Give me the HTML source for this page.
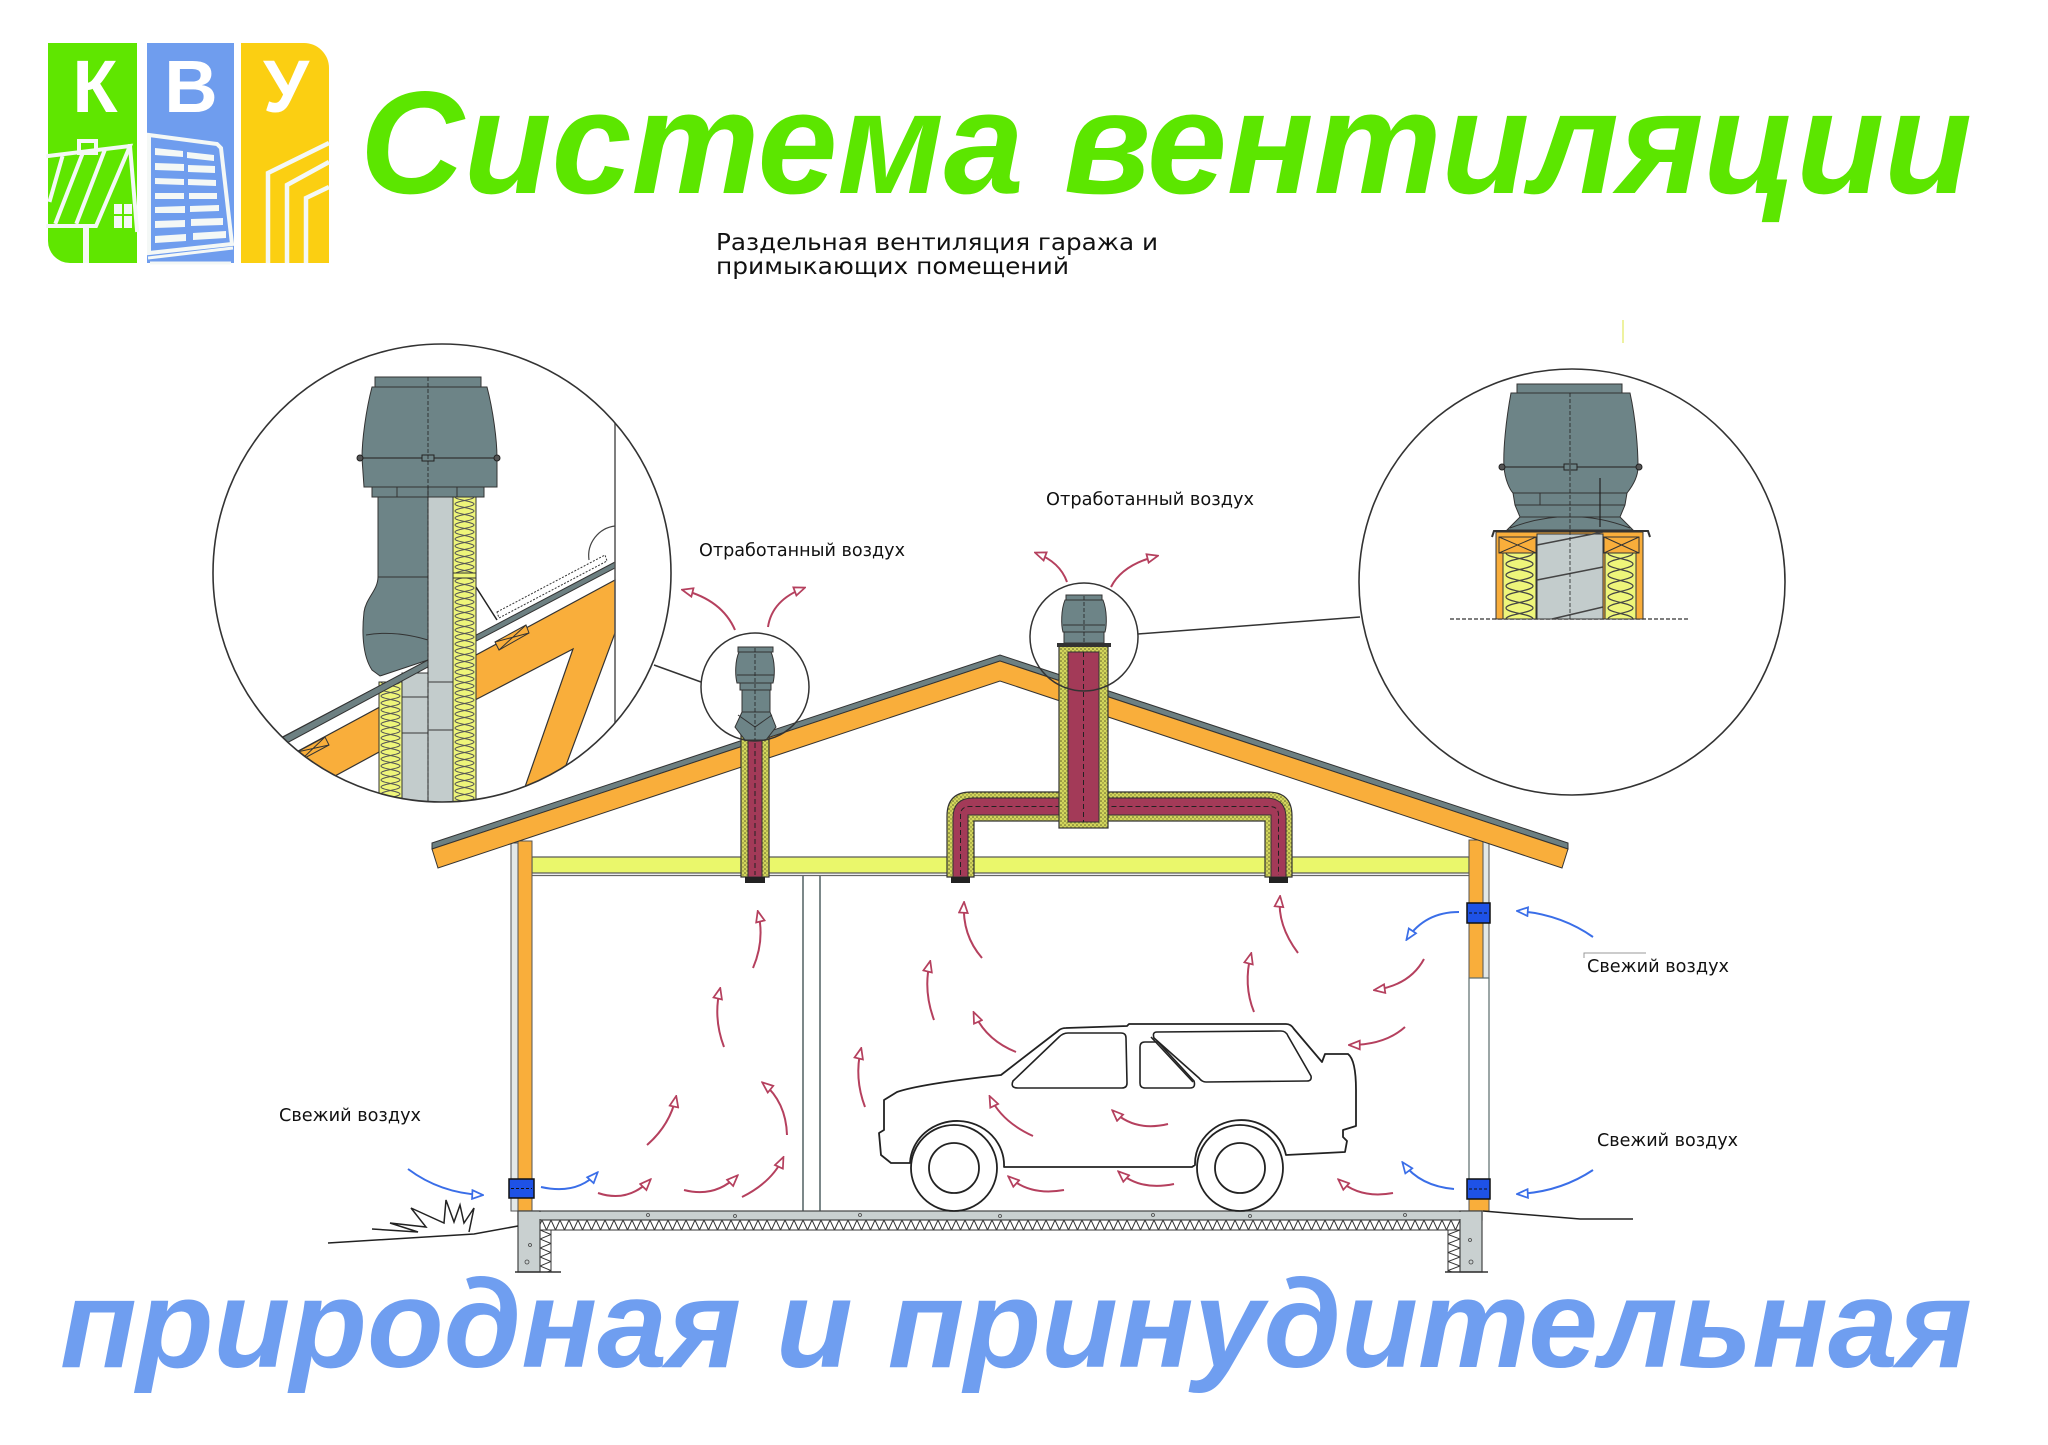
<!DOCTYPE html>
<html><head><meta charset="utf-8">
<style>html,body{margin:0;padding:0;background:#fff;}svg{display:block}</style>
</head><body>
<svg width="2048" height="1445" viewBox="0 0 2048 1445" xmlns="http://www.w3.org/2000/svg">
<defs>
 <marker id="ar" viewBox="0 0 12 10" refX="10" refY="5" markerWidth="13" markerHeight="11" markerUnits="userSpaceOnUse" orient="auto">
  <path d="M1,1 L11,5 L1,9 Z" fill="#fff" stroke="#b5405e" stroke-width="1.6"/>
 </marker>
 <marker id="ab" viewBox="0 0 12 10" refX="10" refY="5" markerWidth="13" markerHeight="11" markerUnits="userSpaceOnUse" orient="auto">
  <path d="M1,1 L11,5 L1,9 Z" fill="#fff" stroke="#3a6ee8" stroke-width="1.6"/>
 </marker>
 <pattern id="spk" width="4" height="4" patternUnits="userSpaceOnUse">
  <rect width="4" height="4" fill="#d3d65c"/>
  <circle cx="1" cy="1" r="0.8" fill="#5b5a2a"/><circle cx="3" cy="3" r="0.7" fill="#7a7a30"/>
 </pattern>
 <pattern id="insA" x="453" y="497" width="23" height="14" patternUnits="userSpaceOnUse">
  <rect width="23" height="14" fill="#eef57a"/>
  <path d="M2,0 C2,3 21,4 21,7 C21,10 2,11 2,14 M21,0 C21,3 2,4 2,7 C2,10 21,11 21,14" fill="none" stroke="#555" stroke-width="1"/>
 </pattern>
 <pattern id="insB" x="379" y="682" width="23" height="14" patternUnits="userSpaceOnUse">
  <rect width="23" height="14" fill="#eef57a"/>
  <path d="M2,0 C2,3 21,4 21,7 C21,10 2,11 2,14 M21,0 C21,3 2,4 2,7 C2,10 21,11 21,14" fill="none" stroke="#555" stroke-width="1"/>
 </pattern>
 <pattern id="insC" x="1503" y="553" width="33" height="22" patternUnits="userSpaceOnUse">
  <rect width="33" height="22" fill="#eef57a"/>
  <path d="M3,0 C3,5 30,6 30,11 C30,16 3,17 3,22 M30,0 C30,5 3,6 3,11 C3,16 30,17 30,22" fill="none" stroke="#444" stroke-width="1.2"/>
 </pattern>
 <pattern id="insD" x="1605" y="553" width="31" height="22" patternUnits="userSpaceOnUse">
  <rect width="31" height="22" fill="#eef57a"/>
  <path d="M3,0 C3,5 28,6 28,11 C28,16 3,17 3,22 M28,0 C28,5 3,6 3,11 C3,16 28,17 28,22" fill="none" stroke="#444" stroke-width="1.2"/>
 </pattern>
 <pattern id="zz" x="551" y="1220" width="9" height="10" patternUnits="userSpaceOnUse">
  <rect width="9" height="10" fill="#fff"/>
  <path d="M0,0 L4.5,10 L9,0" fill="none" stroke="#333" stroke-width="1"/>
 </pattern>
 <pattern id="zv1" x="540" y="1230" width="11" height="9" patternUnits="userSpaceOnUse">
  <rect width="11" height="9" fill="#fff"/>
  <path d="M0,0 L11,4.5 L0,9" fill="none" stroke="#333" stroke-width="1"/>
 </pattern>
 <pattern id="zv2" x="1448" y="1230" width="12" height="9" patternUnits="userSpaceOnUse">
  <rect width="12" height="9" fill="#fff"/>
  <path d="M12,0 L0,4.5 L12,9" fill="none" stroke="#333" stroke-width="1"/>
 </pattern>
 <clipPath id="cL"><circle cx="442" cy="573" r="229"/></clipPath>
 <clipPath id="cR"><circle cx="1572" cy="582" r="213"/></clipPath>
</defs>

<rect width="2048" height="1445" fill="#fff"/>

<!-- LOGO -->
<g>
 <path d="M48,43 H137 V263 H70 A22,22 0 0 1 48,241 Z" fill="#5fe600"/>
 <rect x="147" y="43" width="87" height="220" fill="#6f9dee"/>
 <path d="M241,43 H304 A25,25 0 0 1 329,68 V263 H241 Z" fill="#fbcf12"/>
 <g stroke="#f4f8f6" stroke-width="4" fill="none" stroke-linecap="square">
  <path d="M48,156 L130,146 L96,226 L48,226"/>
  <rect x="79" y="141" width="17" height="12"/>
  <path d="M62,158 L50,200 M82,155 L56,222 M104,152 L77,222"/>
  <path d="M130,146 L137,230"/>
 </g>
 <rect x="83" y="226" width="6" height="37" fill="#f4f8f6"/>
 <g fill="#f4f8f6">
  <rect x="114" y="204" width="8" height="10"/><rect x="124" y="204" width="8" height="10"/>
  <rect x="114" y="216" width="8" height="12"/><rect x="124" y="216" width="8" height="12"/>
 </g>
 <path d="M149,135 L217,144 L221,148 L232,244 L149,253 Z" fill="#6f9dee" stroke="#f4f8f6" stroke-width="4"/>
 <g fill="#f4f8f6">
  <polygon points="155,148 183,151 183,157 155,155"/><polygon points="187,152 214,155 214,161 187,158"/>
  <polygon points="155,163 184,164 184,171 155,170"/><polygon points="188,165 215,166 215,173 188,172"/>
  <polygon points="155,178 184,179 184,185 155,184"/><polygon points="188,179 216,180 216,186 188,185"/>
  <polygon points="155,193 184,193 184,199 155,199"/><polygon points="189,193 217,193 217,199 189,199"/>
  <polygon points="155,207 185,206 185,213 155,213"/><polygon points="190,206 219,205 219,211 190,212"/>
  <polygon points="155,221 185,220 185,227 155,228"/><polygon points="191,219 223,218 223,225 191,226"/>
  <polygon points="155,236 186,234 186,241 155,243"/><polygon points="193,233 226,231 226,238 193,240"/>
 </g>
 <path d="M148,258 L233,248 M150,263 L231,263" stroke="#f4f8f6" stroke-width="3"/>
 <path d="M268,263 V173 L329,143 M287,263 V185 L329,162 M306,263 V198 L329,187" stroke="#f4f8f6" stroke-width="4.5" fill="none"/>
 <g font-family="'Liberation Sans', 'DejaVu Sans', sans-serif" font-weight="bold" font-size="74" fill="#fff" text-anchor="middle">
  <text x="95" y="112">К</text><text x="191" y="112">В</text><text x="286" y="112">У</text>
 </g>
</g>

<!-- TITLES -->
<text x="360" y="193" font-family="'Liberation Sans', sans-serif" font-weight="bold" font-style="italic" font-size="146" fill="#5ce600" textLength="1612" lengthAdjust="spacingAndGlyphs">Система вентиляции</text>
<text x="60" y="1367" font-family="'Liberation Sans', sans-serif" font-weight="bold" font-style="italic" font-size="125" fill="#6f9ef0" textLength="1912" lengthAdjust="spacingAndGlyphs">природная и принудительная</text>

<g font-family="'DejaVu Sans', 'Liberation Sans', sans-serif" fill="#111">
 <text x="716" y="250" font-size="23" textLength="442" lengthAdjust="spacingAndGlyphs">Раздельная вентиляция гаража и</text>
 <text x="716" y="274" font-size="23" textLength="353" lengthAdjust="spacingAndGlyphs">примыкающих помещений</text>
</g>
<line x1="1623" y1="320" x2="1623" y2="343" stroke="#eef2a0" stroke-width="2"/>

<!-- HOUSE STRUCTURE -->
<rect x="532" y="857" width="937" height="16" fill="#eaf76b" stroke="#555" stroke-width="1.2"/>
<line x1="532" y1="875.5" x2="1469" y2="875.5" stroke="#666" stroke-width="1.2"/>
<line x1="803" y1="876" x2="803" y2="1211" stroke="#5b6b6c" stroke-width="1.6"/>
<line x1="820" y1="876" x2="820" y2="1211" stroke="#5b6b6c" stroke-width="1.6"/>
<rect x="511" y="843" width="7" height="368" fill="#e3e8e8" stroke="#555" stroke-width="1"/>
<rect x="518" y="841" width="14" height="370" fill="#f9ae3b" stroke="#555" stroke-width="1"/>
<rect x="509" y="1179" width="25" height="19" fill="#1e52e6" stroke="#111" stroke-width="1.5"/>
<line x1="511" y1="1188.5" x2="532" y2="1188.5" stroke="#111" stroke-width="1" stroke-dasharray="3,2"/>
<rect x="1469" y="840" width="14" height="138" fill="#f9ae3b" stroke="#555" stroke-width="1"/>
<rect x="1483" y="840" width="6" height="138" fill="#e3e8e8" stroke="#555" stroke-width="1"/>
<rect x="1469" y="978" width="20" height="221" fill="#fff" stroke="#5b6b6c" stroke-width="1.2"/>
<rect x="1469" y="1199" width="20" height="12" fill="#f9ae3b" stroke="#555" stroke-width="1"/>
<rect x="1467" y="903" width="23" height="20" fill="#1e52e6" stroke="#111" stroke-width="1.5"/>
<line x1="1469" y1="913" x2="1489" y2="913" stroke="#111" stroke-width="1" stroke-dasharray="3,2"/>
<rect x="1467" y="1179" width="23" height="20" fill="#1e52e6" stroke="#111" stroke-width="1.5"/>
<line x1="1469" y1="1189" x2="1489" y2="1189" stroke="#111" stroke-width="1" stroke-dasharray="3,2"/>

<!-- floor & foundation -->
<rect x="540" y="1220" width="920" height="10" fill="url(#zz)" stroke="#333" stroke-width="1"/>
<rect x="540" y="1230" width="11" height="42" fill="url(#zv1)" stroke="#333" stroke-width="1"/>
<rect x="1448" y="1230" width="12" height="42" fill="url(#zv2)" stroke="#333" stroke-width="1"/>
<rect x="518" y="1211" width="964" height="9" fill="#c9d0d0" stroke="#444" stroke-width="1.2"/>
<rect x="518" y="1211" width="22" height="61" fill="#c9d0d0" stroke="#444" stroke-width="1.2"/>
<rect x="1460" y="1211" width="22" height="61" fill="#c9d0d0" stroke="#444" stroke-width="1.2"/>
<rect x="519" y="1212" width="962" height="7" fill="#c9d0d0"/>
<rect x="519" y="1212" width="20" height="59" fill="#c9d0d0"/>
<rect x="1461" y="1212" width="20" height="59" fill="#c9d0d0"/>
<g fill="none" stroke="#444" stroke-width="0.8">
 <circle cx="530" cy="1245" r="1.5"/><circle cx="527" cy="1262" r="2"/><circle cx="648" cy="1215" r="1.5"/><circle cx="735" cy="1216" r="1.5"/>
 <circle cx="860" cy="1215" r="1.5"/><circle cx="1000" cy="1216" r="1.5"/><circle cx="1153" cy="1215" r="1.5"/><circle cx="1250" cy="1216" r="1.5"/>
 <circle cx="1405" cy="1215" r="1.5"/><circle cx="1470" cy="1240" r="1.5"/><circle cx="1471" cy="1262" r="2"/>
</g>
<path d="M515,1272 H561 M1445,1272 H1488" stroke="#333" stroke-width="1.5"/>
<polyline points="328,1243 474,1234 518,1226" fill="none" stroke="#222" stroke-width="1.5"/>
<polyline points="1483,1211 1580,1219 1633,1219" fill="none" stroke="#222" stroke-width="1.5"/>
<polyline points="372,1229 418,1232 390,1223 426,1227 411,1208 444,1223 446,1200 454,1222 460,1205 464,1223 474,1208 469,1232" fill="none" stroke="#222" stroke-width="1.5"/>

<!-- ROOF -->
<polygon points="432,843 1000,655 1568,843 1568,849 1000,661 432,849" fill="#6d8082" stroke="#333" stroke-width="1"/>
<polygon points="432,849 1000,661 1568,849 1562,868 1000,681 438,868" fill="#f9ae3b" stroke="#333" stroke-width="1"/>

<!-- DUCTS -->
<rect x="741" y="733" width="28" height="144" fill="url(#spk)" stroke="#333" stroke-width="1.2"/>
<rect x="748" y="733" width="14" height="144" fill="#a33a58" stroke="#333" stroke-width="1"/>
<line x1="755" y1="735" x2="755" y2="875" stroke="#222" stroke-width="1" stroke-dasharray="5,3"/>
<rect x="745" y="877" width="20" height="6" fill="#222"/>

<path d="M947,877 L947,816 Q947,792 971,792 L1268,792 Q1292,792 1292,816 L1292,877 L1265,877 L1265,821 L974,821 L974,877 Z" fill="url(#spk)" stroke="#333" stroke-width="1.2"/>
<path d="M953,877 L953,818 Q953,798 973,798 L1266,798 Q1286,798 1286,818 L1286,877 L1271,877 L1271,815 L968,815 L968,877 Z" fill="#a33a58" stroke="#333" stroke-width="1"/>
<path d="M960.5,875 L960.5,815 Q960.5,806.5 970,806.5 L1270,806.5 Q1278.5,806.5 1278.5,815 L1278.5,875" fill="none" stroke="#222" stroke-width="1" stroke-dasharray="5,3"/>
<rect x="951" y="877" width="19" height="6" fill="#222"/>
<rect x="1269" y="877" width="19" height="6" fill="#222"/>
<rect x="1059" y="646" width="49" height="182" fill="url(#spk)" stroke="#333" stroke-width="1.2"/>
<rect x="1068" y="652" width="31" height="170" fill="#a33a58" stroke="#333" stroke-width="1"/>
<line x1="1083.5" y1="652" x2="1083.5" y2="822" stroke="#222" stroke-width="1" stroke-dasharray="5,3"/>
<rect x="1057" y="643" width="54" height="4" fill="#333"/>

<!-- small fans -->
<g fill="#6d8487" stroke="#333" stroke-width="1">
 <rect x="738" y="647" width="35" height="5"/>
 <path d="M739,652 C735,661 735,675 737,683 L773,683 C775,675 775,661 771,652 Z"/>
 <rect x="740" y="683" width="31" height="7"/>
 <rect x="742" y="690" width="28" height="22"/>
 <path d="M742,712 L770,712 L776,727 L766,740 L745,740 L735,727 Z"/>
 <path d="M738,715 L755,727 L772,715" fill="none"/>
 <rect x="1066" y="595" width="36" height="5"/>
 <path d="M1065,600 C1061,610 1061,625 1063,632 L1105,632 C1107,625 1107,610 1103,600 Z"/>
 <rect x="1064" y="632" width="40" height="11"/>
</g>
<line x1="737" y1="675" x2="774" y2="675" stroke="#333" stroke-width="1"/>
<line x1="1063" y1="625" x2="1105" y2="625" stroke="#333" stroke-width="1"/>
<line x1="755" y1="648" x2="755" y2="740" stroke="#222" stroke-width="0.8" stroke-dasharray="4,2"/>
<line x1="1084" y1="596" x2="1084" y2="643" stroke="#222" stroke-width="0.8" stroke-dasharray="4,2"/>

<circle cx="755" cy="687" r="54" fill="none" stroke="#333" stroke-width="1.5"/>
<circle cx="1084" cy="637" r="54" fill="none" stroke="#333" stroke-width="1.5"/>
<line x1="654" y1="665" x2="701" y2="682" stroke="#333" stroke-width="1.5"/>
<line x1="1138" y1="634" x2="1360" y2="617" stroke="#333" stroke-width="1.5"/>

<!-- LEFT BIG CIRCLE -->
<circle cx="442" cy="573" r="229" fill="#fff"/>
<g clip-path="url(#cL)">
 <polygon points="250,777 615,580 615,633 542,830 510,830 573,649 477,699 250,822" fill="#f9ae3b" stroke="#333" stroke-width="1.2"/>
 <polygon points="250,754 615,562 615,568 250,760" fill="#6d8082" stroke="#333" stroke-width="1"/>
 <polygon points="297,752 325,737 329,745 301,760" fill="#f9ae3b" stroke="#333" stroke-width="1"/>
 <path d="M297,752 L329,745 M325,737 L301,760" stroke="#333" stroke-width="1"/>
 <polygon points="495,642 526,625 529,633 499,650" fill="#f9ae3b" stroke="#333" stroke-width="1"/>
 <path d="M495,642 L529,633 M526,625 L499,650" stroke="#333" stroke-width="1"/>
 <polygon points="497,612 605,555 607,561 499,618" fill="#fff" stroke="#333" stroke-width="1" stroke-dasharray="2,1.5"/>
 <line x1="615" y1="423" x2="615" y2="723" stroke="#555" stroke-width="1.5"/>
 <path d="M615,526 A30,30 0 0 0 589,560" fill="none" stroke="#444" stroke-width="1.2"/>
 <line x1="467" y1="573" x2="497" y2="620" stroke="#222" stroke-width="1.5"/>
 <rect x="428" y="497" width="25" height="310" fill="#c3cccc" stroke="#333" stroke-width="1"/>
 <rect x="402" y="673" width="26" height="134" fill="#c3cccc" stroke="#333" stroke-width="1"/>
 <path d="M402,697 H428 M402,733 H428 M428,682 H453 M428,730 H453" stroke="#555" stroke-width="1.2"/>
 <rect x="453" y="497" width="23" height="310" fill="url(#insA)" stroke="#333" stroke-width="1"/>
 <rect x="379" y="682" width="23" height="125" fill="url(#insB)" stroke="#333" stroke-width="1"/>
 <rect x="453" y="573" width="23" height="5" fill="#eef57a" stroke="#333" stroke-width="1"/>
 <path d="M378,497 H428 V660 L380,676 L372,670 C362,655 362,630 364,612 C366,598 378,590 378,577 Z" fill="#6d8487" stroke="#333" stroke-width="1"/>
 <path d="M378,577 H428 M366,635 Q395,630 428,640" stroke="#333" stroke-width="1" fill="none"/>
 <polygon points="283,737 428,660 428,667 285,744" fill="#6d8082" stroke="#333" stroke-width="1"/>
 <rect x="375" y="377" width="106" height="10" fill="#6d8487" stroke="#333" stroke-width="1"/>
 <path d="M372,387 C366,410 362,440 362,458 L364,487 L497,487 L497,458 C497,440 493,410 487,387 Z" fill="#6d8487" stroke="#333" stroke-width="1"/>
 <line x1="362" y1="458" x2="497" y2="458" stroke="#333" stroke-width="1.2"/>
 <circle cx="360" cy="458" r="3" fill="#555" stroke="#222"/><circle cx="497" cy="458" r="3" fill="#555" stroke="#222"/>
 <rect x="422" y="455" width="12" height="6" fill="#6d8487" stroke="#222" stroke-width="1"/>
 <rect x="372" y="487" width="112" height="10" fill="#6d8487" stroke="#333" stroke-width="1"/>
 <path d="M397,487 v10 M428,487 v10 M457,487 v10" stroke="#333" stroke-width="1"/>
 <line x1="428" y1="377" x2="428" y2="807" stroke="#222" stroke-width="0.8" stroke-dasharray="4,2"/>
</g>
<circle cx="442" cy="573" r="229" fill="none" stroke="#333" stroke-width="1.6"/>

<!-- RIGHT BIG CIRCLE -->
<circle cx="1572" cy="582" r="213" fill="#fff"/>
<g clip-path="url(#cR)">
 <line x1="1450" y1="619" x2="1688" y2="619" stroke="#555" stroke-width="1.5" stroke-dasharray="4,2"/>
 <rect x="1496" y="532" width="147" height="87" fill="#f9ae3b" stroke="#333" stroke-width="1"/>
 <rect x="1537" y="534" width="66" height="85" fill="#c3cccc" stroke="#333" stroke-width="1"/>
 <path d="M1537,545 L1603,532 M1537,580 L1603,567 M1552,619 L1603,607" stroke="#444" stroke-width="1.5"/>
 <rect x="1499" y="537" width="37" height="16" fill="#f9ae3b" stroke="#333" stroke-width="1"/>
 <path d="M1499,537 L1536,553 M1536,537 L1499,553" stroke="#333" stroke-width="1"/>
 <rect x="1604" y="537" width="35" height="16" fill="#f9ae3b" stroke="#333" stroke-width="1"/>
 <path d="M1604,537 L1639,553 M1639,537 L1604,553" stroke="#333" stroke-width="1"/>
 <rect x="1503" y="553" width="33" height="66" fill="url(#insC)" stroke="#333" stroke-width="1"/>
 <rect x="1605" y="553" width="31" height="66" fill="url(#insD)" stroke="#333" stroke-width="1"/>
 <path d="M1492,537 L1494,531 L1648,531 L1650,537" fill="none" stroke="#333" stroke-width="2"/>
 <polygon points="1507,530 1520,517 1620,517 1633,530" fill="#6d8487" stroke="#333" stroke-width="1"/>
 <path d="M1510,528 Q1570,505 1630,528" fill="none" stroke="#333" stroke-width="1"/>
 <path d="M1513,493 L1627,493 L1625,505 L1620,517 L1520,517 L1515,505 Z" fill="#6d8487" stroke="#333" stroke-width="1"/>
 <line x1="1515" y1="505" x2="1625" y2="505" stroke="#333" stroke-width="1"/>
 <path d="M1540,493 v12 M1600,493 v12" stroke="#333" stroke-width="1"/>
 <rect x="1517" y="384" width="105" height="9" fill="#6d8487" stroke="#333" stroke-width="1"/>
 <path d="M1511,393 C1506,420 1503,450 1504,467 C1505,480 1510,490 1513,493 L1627,493 C1631,488 1638,478 1638,467 C1638,450 1636,420 1630,393 Z" fill="#6d8487" stroke="#333" stroke-width="1"/>
 <line x1="1504" y1="467" x2="1638" y2="467" stroke="#333" stroke-width="1.2"/>
 <circle cx="1502" cy="467" r="3" fill="#555" stroke="#222"/><circle cx="1639" cy="467" r="3" fill="#555" stroke="#222"/>
 <rect x="1564" y="464" width="13" height="6" fill="#6d8487" stroke="#222" stroke-width="1"/>
 <line x1="1600" y1="478" x2="1600" y2="527" stroke="#222" stroke-width="1.2"/>
 <line x1="1570" y1="393" x2="1570" y2="619" stroke="#222" stroke-width="0.8" stroke-dasharray="4,2"/>
</g>
<circle cx="1572" cy="582" r="213" fill="none" stroke="#333" stroke-width="1.6"/>

<!-- CAR -->
<g fill="none" stroke="#222" stroke-width="1.8" stroke-linejoin="round">
 <path d="M910,1163 L891,1163 L881,1155 L879,1133 L884,1130 L884,1100 L897,1092 Q920,1084 1001,1075 L1058,1031 Q1061,1028 1066,1028 L1127,1026 L1129,1024 L1286,1024 Q1291,1024 1294,1029 L1322,1062 L1325,1054 L1348,1054 Q1356,1060 1356,1090 L1356,1126 L1343,1130 L1343,1137 L1347,1141 L1345,1152 L1286,1155 A46,44 0 0 0 1195,1165 L1192,1167 L1004,1167 A47,44 0 0 0 910,1163 Z"/>
 <path d="M1013,1081 L1059,1037 Q1063,1033 1068,1033 L1121,1033 Q1126,1033 1126,1038 L1127,1083 Q1127,1088 1122,1088 L1018,1088 Q1010,1088 1013,1081 Z" stroke-width="1.6"/>
 <path d="M1145,1042 L1158,1042 L1194,1081 Q1196,1088 1190,1088 L1145,1088 Q1140,1088 1140,1083 L1140,1047 Q1140,1042 1145,1042 Z" stroke-width="1.6"/>
 <path d="M1151,1037 L1193,1082" stroke-width="1.6"/>
 <path d="M1157,1032 L1281,1031 Q1286,1031 1288,1036 L1311,1076 Q1312,1081 1307,1081 L1206,1082 Q1202,1082 1199,1078 L1154,1038 Q1152,1032 1157,1032 Z" stroke-width="1.6"/>
 <circle cx="954" cy="1168" r="43"/><circle cx="954" cy="1168" r="25"/>
 <circle cx="1240" cy="1168" r="43"/><circle cx="1240" cy="1168" r="25"/>
</g>

<!-- ARROWS red -->
<g fill="none" stroke="#b5405e" stroke-width="2" marker-end="url(#ar)">
 <path d="M735,630 Q722,600 683,590"/>
 <path d="M768,627 Q772,600 804,588"/>
 <path d="M1067,582 Q1060,562 1036,553"/>
 <path d="M1111,587 Q1122,565 1157,556"/>
 <path d="M753,968 Q765,940 758,912"/>
 <path d="M724,1047 Q713,1018 720,989"/>
 <path d="M647,1145 Q670,1125 676,1097"/>
 <path d="M787,1135 Q786,1102 763,1083"/>
 <path d="M598,1193 Q628,1203 650,1180"/>
 <path d="M684,1190 Q715,1198 737,1176"/>
 <path d="M742,1197 Q772,1182 783,1158"/>
 <path d="M982,958 Q962,935 964,903"/>
 <path d="M934,1020 Q923,990 930,962"/>
 <path d="M865,1107 Q854,1078 861,1049"/>
 <path d="M1016,1052 Q986,1040 974,1013"/>
 <path d="M1033,1136 Q1002,1122 990,1097"/>
 <path d="M1168,1124 Q1135,1132 1113,1111"/>
 <path d="M1064,1190 Q1030,1196 1009,1177"/>
 <path d="M1174,1184 Q1140,1191 1119,1172"/>
 <path d="M1393,1193 Q1360,1199 1339,1180"/>
 <path d="M1298,953 Q1277,925 1280,897"/>
 <path d="M1254,1012 Q1243,985 1251,954"/>
 <path d="M1424,959 Q1410,985 1375,990"/>
 <path d="M1405,1027 Q1385,1045 1350,1045"/>
</g>
<g fill="none" stroke="#3a6ee8" stroke-width="2" marker-end="url(#ab)">
 <path d="M408,1169 Q440,1193 482,1195"/>
 <path d="M541,1187 Q577,1195 597,1173"/>
 <path d="M1593,937 Q1560,914 1518,911"/>
 <path d="M1459,912 Q1425,912 1407,939"/>
 <path d="M1454,1189 Q1420,1186 1403,1163"/>
 <path d="M1593,1170 Q1560,1192 1518,1194"/>
</g>

<!-- LABELS -->
<g font-family="'DejaVu Sans', 'Liberation Sans', sans-serif" font-size="18" fill="#111">
 <text x="699" y="556" textLength="206" lengthAdjust="spacingAndGlyphs">Отработанный воздух</text>
 <text x="1046" y="505" textLength="208" lengthAdjust="spacingAndGlyphs">Отработанный воздух</text>
 <text x="279" y="1121" textLength="142" lengthAdjust="spacingAndGlyphs">Свежий воздух</text>
 <text x="1587" y="972" textLength="142" lengthAdjust="spacingAndGlyphs">Свежий воздух</text>
 <text x="1597" y="1146" textLength="141" lengthAdjust="spacingAndGlyphs">Свежий воздух</text>
</g>
<path d="M1584,958 V953 H1646" fill="none" stroke="#999" stroke-width="1"/>
</svg>
</body></html>
